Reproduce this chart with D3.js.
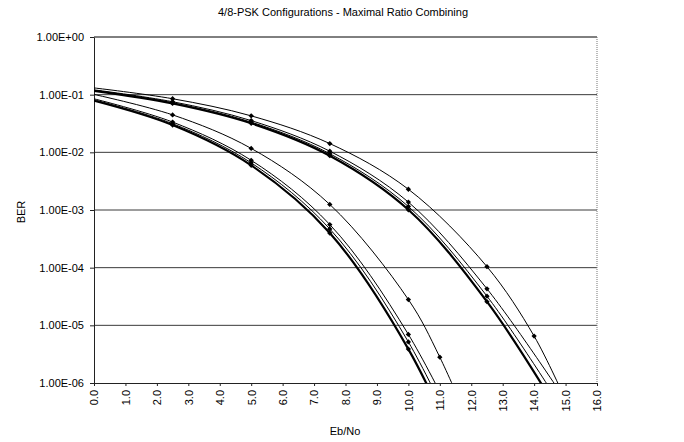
<!DOCTYPE html>
<html>
<head>
<meta charset="utf-8">
<script src="https://cdn.jsdelivr.net/npm/d3@7"></script>
<style>
    body { margin: 0; background: #fff; }
    svg { display: block; font-family: "Liberation Sans", Arial, sans-serif; }
</style>
</head>
<body>
<div id="chart"></div>
<script>
// ========================================
// 4/8-PSK MRC — BER vs Eb/No (D3.js)
// ========================================

// Axis ticks
const ebnoTicks = [0, 1, 2, 3, 4, 5, 6, 7, 8, 9, 10, 11, 12, 13, 14, 15, 16];
const berTicks = [1e0, 1e-1, 1e-2, 1e-3, 1e-4, 1e-5, 1e-6];

// Eb/No sample points
const snrBundle4 = [0, 2.5, 5, 7.5, 10, 12.5];
const snrSingle4 = [0, 2.5, 5, 7.5, 10, 11, 12.5];
const snrBundle8 = [0, 2.5, 5, 7.5, 10, 12.5, 15];
const snrSingle8 = [0, 2.5, 5, 7.5, 10, 12.5, 14, 15];

// 4-PSK curves
const psk4a = [0.0786, 0.0297, 0.00595, 3.99e-4, 3.87e-6, 5e-9];
const psk4b = [0.0816, 0.0314, 0.00657, 4.70e-4, 5.15e-6, 8e-9];
const psk4c = [0.0848, 0.0335, 0.00728, 5.6e-4, 6.96e-6, 1.5e-8];
const psk4d = [0.101, 0.0446, 0.0117, 1.25e-3, 2.8e-5, 2.8e-6, 3.8e-8];

// 8-PSK curves
const psk8a = [0.1163, 0.0704, 0.0319, 0.00874, 1.01e-3, 2.57e-5, 2e-7];
const psk8b = [0.1184, 0.0725, 0.0334, 0.00946, 1.15e-3, 3.2e-5, 3e-7];
const psk8c = [0.1213, 0.0754, 0.0355, 0.01047, 1.37e-3, 4.3e-5, 5e-7];
const psk8d = [0.131, 0.085, 0.0429, 0.0142, 2.29e-3, 1.04e-4, 6.5e-6, 5.1e-7];

(function () {
    'use strict';

    const W = 684, H = 442;
    const plot = { left: 94, right: 597, top: 37, bottom: 383 };

    const series = [
        { x: snrBundle4, y: psk4a, width: 2.2 },
        { x: snrBundle4, y: psk4b, width: 1 },
        { x: snrBundle4, y: psk4c, width: 1 },
        { x: snrSingle4, y: psk4d, width: 1 },
        { x: snrBundle8, y: psk8a, width: 2.2 },
        { x: snrBundle8, y: psk8b, width: 1 },
        { x: snrBundle8, y: psk8c, width: 1 },
        { x: snrSingle8, y: psk8d, width: 1 }
    ];

    const svg = d3.select('#chart').append('svg')
        .attr('width', W)
        .attr('height', H);

    const x = d3.scaleLinear().domain([0, 16]).range([plot.left, plot.right]);
    const y = d3.scaleLog().domain([1e-6, 1]).range([plot.bottom, plot.top]);

    const fmtBer = v => {
        const e = Math.round(Math.log10(v));
        return '1.00E' + (e < 0 ? '-' : '+') + String(Math.abs(e)).padStart(2, '0');
    };

    // Title
    svg.append('text')
        .attr('x', 343).attr('y', 16)
        .attr('text-anchor', 'middle')
        .attr('font-size', '11px')
        .text('4/8-PSK Configurations - Maximal Ratio Combining');

    // Grid lines
    svg.append('g').selectAll('line')
        .data(berTicks.slice(1, -1))
        .join('line')
        .attr('x1', plot.left).attr('x2', plot.right)
        .attr('y1', d => y(d)).attr('y2', d => y(d))
        .attr('stroke', '#3a3a3a')
        .attr('stroke-width', 1);

    // Plot frame: top solid, right dotted
    svg.append('line')
        .attr('x1', plot.left).attr('x2', plot.right)
        .attr('y1', plot.top).attr('y2', plot.top)
        .attr('stroke', '#000');
    svg.append('line')
        .attr('x1', plot.right).attr('x2', plot.right)
        .attr('y1', plot.top).attr('y2', plot.bottom)
        .attr('stroke', '#777')
        .attr('stroke-dasharray', '1,1');

    // Y axis
    const yAxis = svg.append('g')
        .attr('transform', `translate(${plot.left},0)`)
        .call(d3.axisLeft(y).tickValues(berTicks).tickFormat(fmtBer)
            .tickSize(4).tickSizeOuter(0).tickPadding(6));
    yAxis.selectAll('text').attr('font-size', '11px').attr('fill', '#000')
        .style('font-family', '"Liberation Sans", Arial, sans-serif');
    yAxis.selectAll('line, path').attr('stroke', '#222');

    // X axis
    const xAxis = svg.append('g')
        .attr('transform', `translate(0,${plot.bottom})`)
        .call(d3.axisBottom(x).tickValues(ebnoTicks).tickFormat(d => d.toFixed(1))
            .tickSize(3).tickSizeOuter(0));
    xAxis.selectAll('text')
        .attr('transform', 'rotate(-90)')
        .attr('text-anchor', 'end')
        .attr('x', -7).attr('y', 0).attr('dy', '0.35em')
        .attr('font-size', '11px').attr('fill', '#000')
        .style('font-family', '"Liberation Sans", Arial, sans-serif');
    xAxis.selectAll('line, path').attr('stroke', '#222');

    // Axis titles
    svg.append('text')
        .attr('transform', 'translate(25,212) rotate(-90)')
        .attr('text-anchor', 'middle')
        .attr('font-size', '11px')
        .text('BER');
    svg.append('text')
        .attr('x', 345).attr('y', 435)
        .attr('text-anchor', 'middle')
        .attr('font-size', '11px')
        .text('Eb/No');

    // Clip curves to the plot area
    svg.append('clipPath').attr('id', 'plot-clip')
        .append('rect')
        .attr('x', plot.left).attr('y', plot.top)
        .attr('width', plot.right - plot.left)
        .attr('height', plot.bottom - plot.top);

    const line = d3.line()
        .x(d => x(d[0]))
        .y(d => y(d[1]))
        .curve(d3.curveCatmullRom.alpha(0.5));

    const curves = svg.append('g').attr('clip-path', 'url(#plot-clip)');
    series.forEach(s => {
        const pts = s.x.map((v, i) => [v, s.y[i]]);
        curves.append('path')
            .attr('d', line(pts))
            .attr('fill', 'none')
            .attr('stroke', '#000')
            .attr('stroke-width', s.width);
    });

    // Small square-diamond markers (points inside the plot, skipping the axis edge)
    const diamond = d3.symbol().type(d3.symbolSquare).size(14);
    const marks = svg.append('g');
    series.forEach(s => {
        const pts = s.x.map((v, i) => [v, s.y[i]]).filter(p => p[0] > 0 && p[1] >= 1e-6);
        marks.selectAll(null)
            .data(pts)
            .join('path')
            .attr('d', diamond)
            .attr('transform', d => `translate(${x(d[0])},${y(d[1])}) rotate(45)`)
            .attr('fill', '#000');
    });
})();
</script>
</body>
</html>
